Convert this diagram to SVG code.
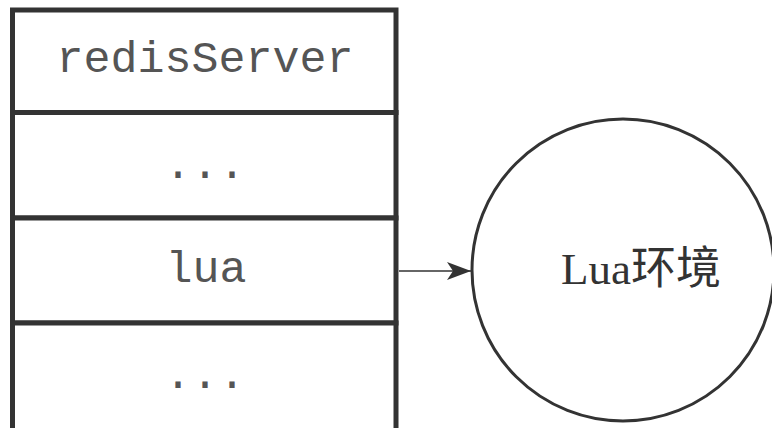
<svg xmlns="http://www.w3.org/2000/svg" width="772" height="428" viewBox="0 0 772 428">
<defs>
<style>
.cell{fill:#fff;stroke:#333;stroke-width:5}
.mono{font-family:"Liberation Mono","DejaVu Sans Mono",monospace;font-size:45px;fill:#555;text-anchor:middle}
.serif{font-family:"Liberation Serif","Noto Sans CJK SC",serif;font-size:45px;fill:#333;text-anchor:middle}
.edge{stroke:#333;stroke-width:1.5;fill:none}
</style>
<marker id="arrow" viewBox="0 0 24 20" refX="24" refY="10" markerWidth="24" markerHeight="20" markerUnits="userSpaceOnUse" orient="auto">
<path d="M0,1 L24,10 L0,19 L6,10 Z" fill="#333"/>
</marker>
</defs>
<rect width="772" height="428" fill="#fff"/>
<g id="redisServer">
<rect class="cell" x="12.5" y="10" width="383.5" height="102.5"/>
<text class="mono" x="205" y="72">redisServer</text>
</g>
<g id="dots1">
<rect class="cell" x="12.5" y="112.5" width="383.5" height="105.5"/>
<text class="mono" x="205" y="178">...</text>
</g>
<g id="lua">
<rect class="cell" x="12.5" y="218" width="383.5" height="105"/>
<text class="mono" x="206" y="282">lua</text>
</g>
<g id="dots2">
<rect class="cell" x="12.5" y="323" width="383.5" height="110"/>
<text class="mono" x="205" y="388">...</text>
</g>
<g id="luaEnv">
<circle cx="623" cy="270" r="151" fill="#fff" stroke="#333" stroke-width="3"/>
<text class="serif" x="641" y="284">Lua环境</text>
</g>
<g id="connectors">
<line class="edge" x1="399" y1="271" x2="471" y2="271" marker-end="url(#arrow)"/>
</g>
</svg>
